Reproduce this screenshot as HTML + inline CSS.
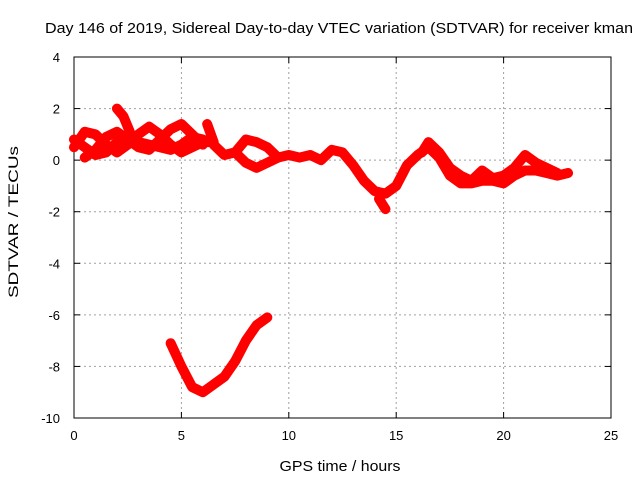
<!DOCTYPE html>
<html><head><meta charset="utf-8"><style>
body{margin:0;background:#fff}
svg text{font-family:"Liberation Sans",sans-serif;font-size:13px;fill:#000}
</style></head><body>
<svg width="640" height="480">
<text x="339" y="33" text-anchor="middle" style="font-size:15px" textLength="588" lengthAdjust="spacingAndGlyphs">Day 146 of 2019, Sidereal Day-to-day VTEC variation (SDTVAR) for receiver kman</text>
<g id="grid"></g>
<g id="axes"></g>
<g id="series"></g>
<text x="340" y="471" text-anchor="middle" style="font-size:15px" textLength="121" lengthAdjust="spacingAndGlyphs">GPS time / hours</text>
<text transform="translate(18,222) rotate(-90)" text-anchor="middle" style="font-size:14px" textLength="152" lengthAdjust="spacingAndGlyphs">SDTVAR / TECUs</text>
</svg>
<script>
const xTicks=[0,5,10,15,20,25];
const yTicks=[4,2,0,-2,-4,-6,-8,-10];
const track1=[[0,0.5],[0.5,1.1],[1,1.0],[1.5,0.6],[2,0.3],[2.5,0.6],[3,1.0],[3.5,1.3],[4,1.0],[4.5,0.6],[5,0.3],[5.5,0.5],[6,0.7],[6.5,0.7]];
const track2=[[0,0.8],[0.5,0.5],[1,0.2],[1.5,0.3],[2,0.7],[2.5,0.8],[3,0.7],[3.5,0.6],[4,0.5],[4.5,0.4],[5,0.6],[5.5,0.9],[6,0.8]];
const track3=[[0.5,0.1],[1,0.4],[1.5,0.9],[2,1.1],[2.5,0.8],[3,0.5],[3.5,0.4],[4,0.8],[4.5,1.2],[5,1.4],[5.5,1.0],[6,0.6]];
const spike1=[[2,2.0],[2.3,1.7],[2.6,1.1]];
const spike2=[[6.2,1.4],[6.5,0.7]];
const mainTrack=[[6.5,0.6],[7,0.2],[7.5,0.3],[8,0.8],[8.5,0.7],[9,0.5],[9.5,0.1],[10,0.2],[10.5,0.1],[11,0.2],[11.5,0.0],[12,0.4],[12.5,0.3],[13,-0.2],[13.5,-0.8],[14,-1.2],[14.5,-1.3],[15,-1.0],[15.5,-0.2],[16,0.2],[16.5,0.5],[17,0.1],[17.5,-0.6],[18,-0.9],[18.5,-0.9],[19,-0.8],[19.5,-0.8],[20,-0.9],[20.5,-0.6],[21,-0.4],[21.5,-0.4],[22,-0.5],[22.5,-0.6],[23,-0.5]];
const lowTrack=[[7.5,0.3],[8,-0.1],[8.5,-0.3],[9,-0.1],[9.5,0.1]];
const lateTrack=[[16.2,0.3],[16.5,0.7],[17,0.3],[17.5,-0.3],[18,-0.6],[18.5,-0.8],[19,-0.4],[19.5,-0.7],[20,-0.6],[20.5,-0.3],[21,0.2],[21.5,-0.1],[22,-0.3],[22.5,-0.5]];
const dip=[[14.2,-1.5],[14.5,-1.9]];
const bottomArc=[[4.5,-7.1],[5,-8.0],[5.5,-8.8],[6,-9.0],[6.5,-8.7],[7,-8.4],[7.5,-7.8],[8,-7.0],[8.5,-6.4],[9,-6.1]];
const allSeries=[track1,track2,track3,spike1,spike2,mainTrack,lowTrack,lateTrack,dip,bottomArc];

const X0=74,X1=611,Y0=418,Y1=57;
const sx=h=>X0+(h-0)/25*(X1-X0);
const sy=v=>Y0-(v+10)/14*(Y0-Y1);
const NS="http://www.w3.org/2000/svg";
function mk(t,a,p){const e=document.createElementNS(NS,t);for(const k in a)e.setAttribute(k,a[k]);p.appendChild(e);return e;}
const grid=document.getElementById('grid'),axes=document.getElementById('axes'),ser=document.getElementById('series');
xTicks.forEach(t=>{
 const x=sx(t);
 if(t>0&&t<25){const l=mk('line',{x1:x,x2:x,y1:Y1,y2:Y0,stroke:'#a0a0a0','stroke-dasharray':'2,3'},grid);
 
 }
 mk('line',{x1:x,x2:x,y1:Y0,y2:Y0-6,stroke:'#000'},axes);
 mk('line',{x1:x,x2:x,y1:Y1,y2:Y1+6,stroke:'#000'},axes);
 const tx=mk('text',{x:x,y:Y0+22,'text-anchor':'middle','font-size':'14'},axes);tx.textContent=t;
 
 
});
yTicks.forEach(t=>{
 const y=sy(t);
 if(t>-10&&t<4){const l=mk('line',{x1:X0,x2:X1,y1:y,y2:y,stroke:'#a0a0a0','stroke-dasharray':'2,3'},grid);
 
 }
 mk('line',{x1:X0,x2:X0+6,y1:y,y2:y,stroke:'#000'},axes);
 mk('line',{x1:X1,x2:X1-6,y1:y,y2:y,stroke:'#000'},axes);
 const tx=mk('text',{x:X0-14,y:y+5,'text-anchor':'end','font-size':'14'},axes);tx.textContent=t;
 
 
});
mk('rect',{x:X0,y:Y1,width:X1-X0,height:Y0-Y1,fill:'none',stroke:'#000'},axes);
allSeries.forEach(s=>{
 const p=mk('polyline',{points:s.map(d=>sx(d[0])+','+sy(d[1])).join(' '),fill:'none',stroke:'#ff0000','stroke-width':10,'stroke-linejoin':'round','stroke-linecap':'round'},ser);
 
 
});
</script>
</body></html>
